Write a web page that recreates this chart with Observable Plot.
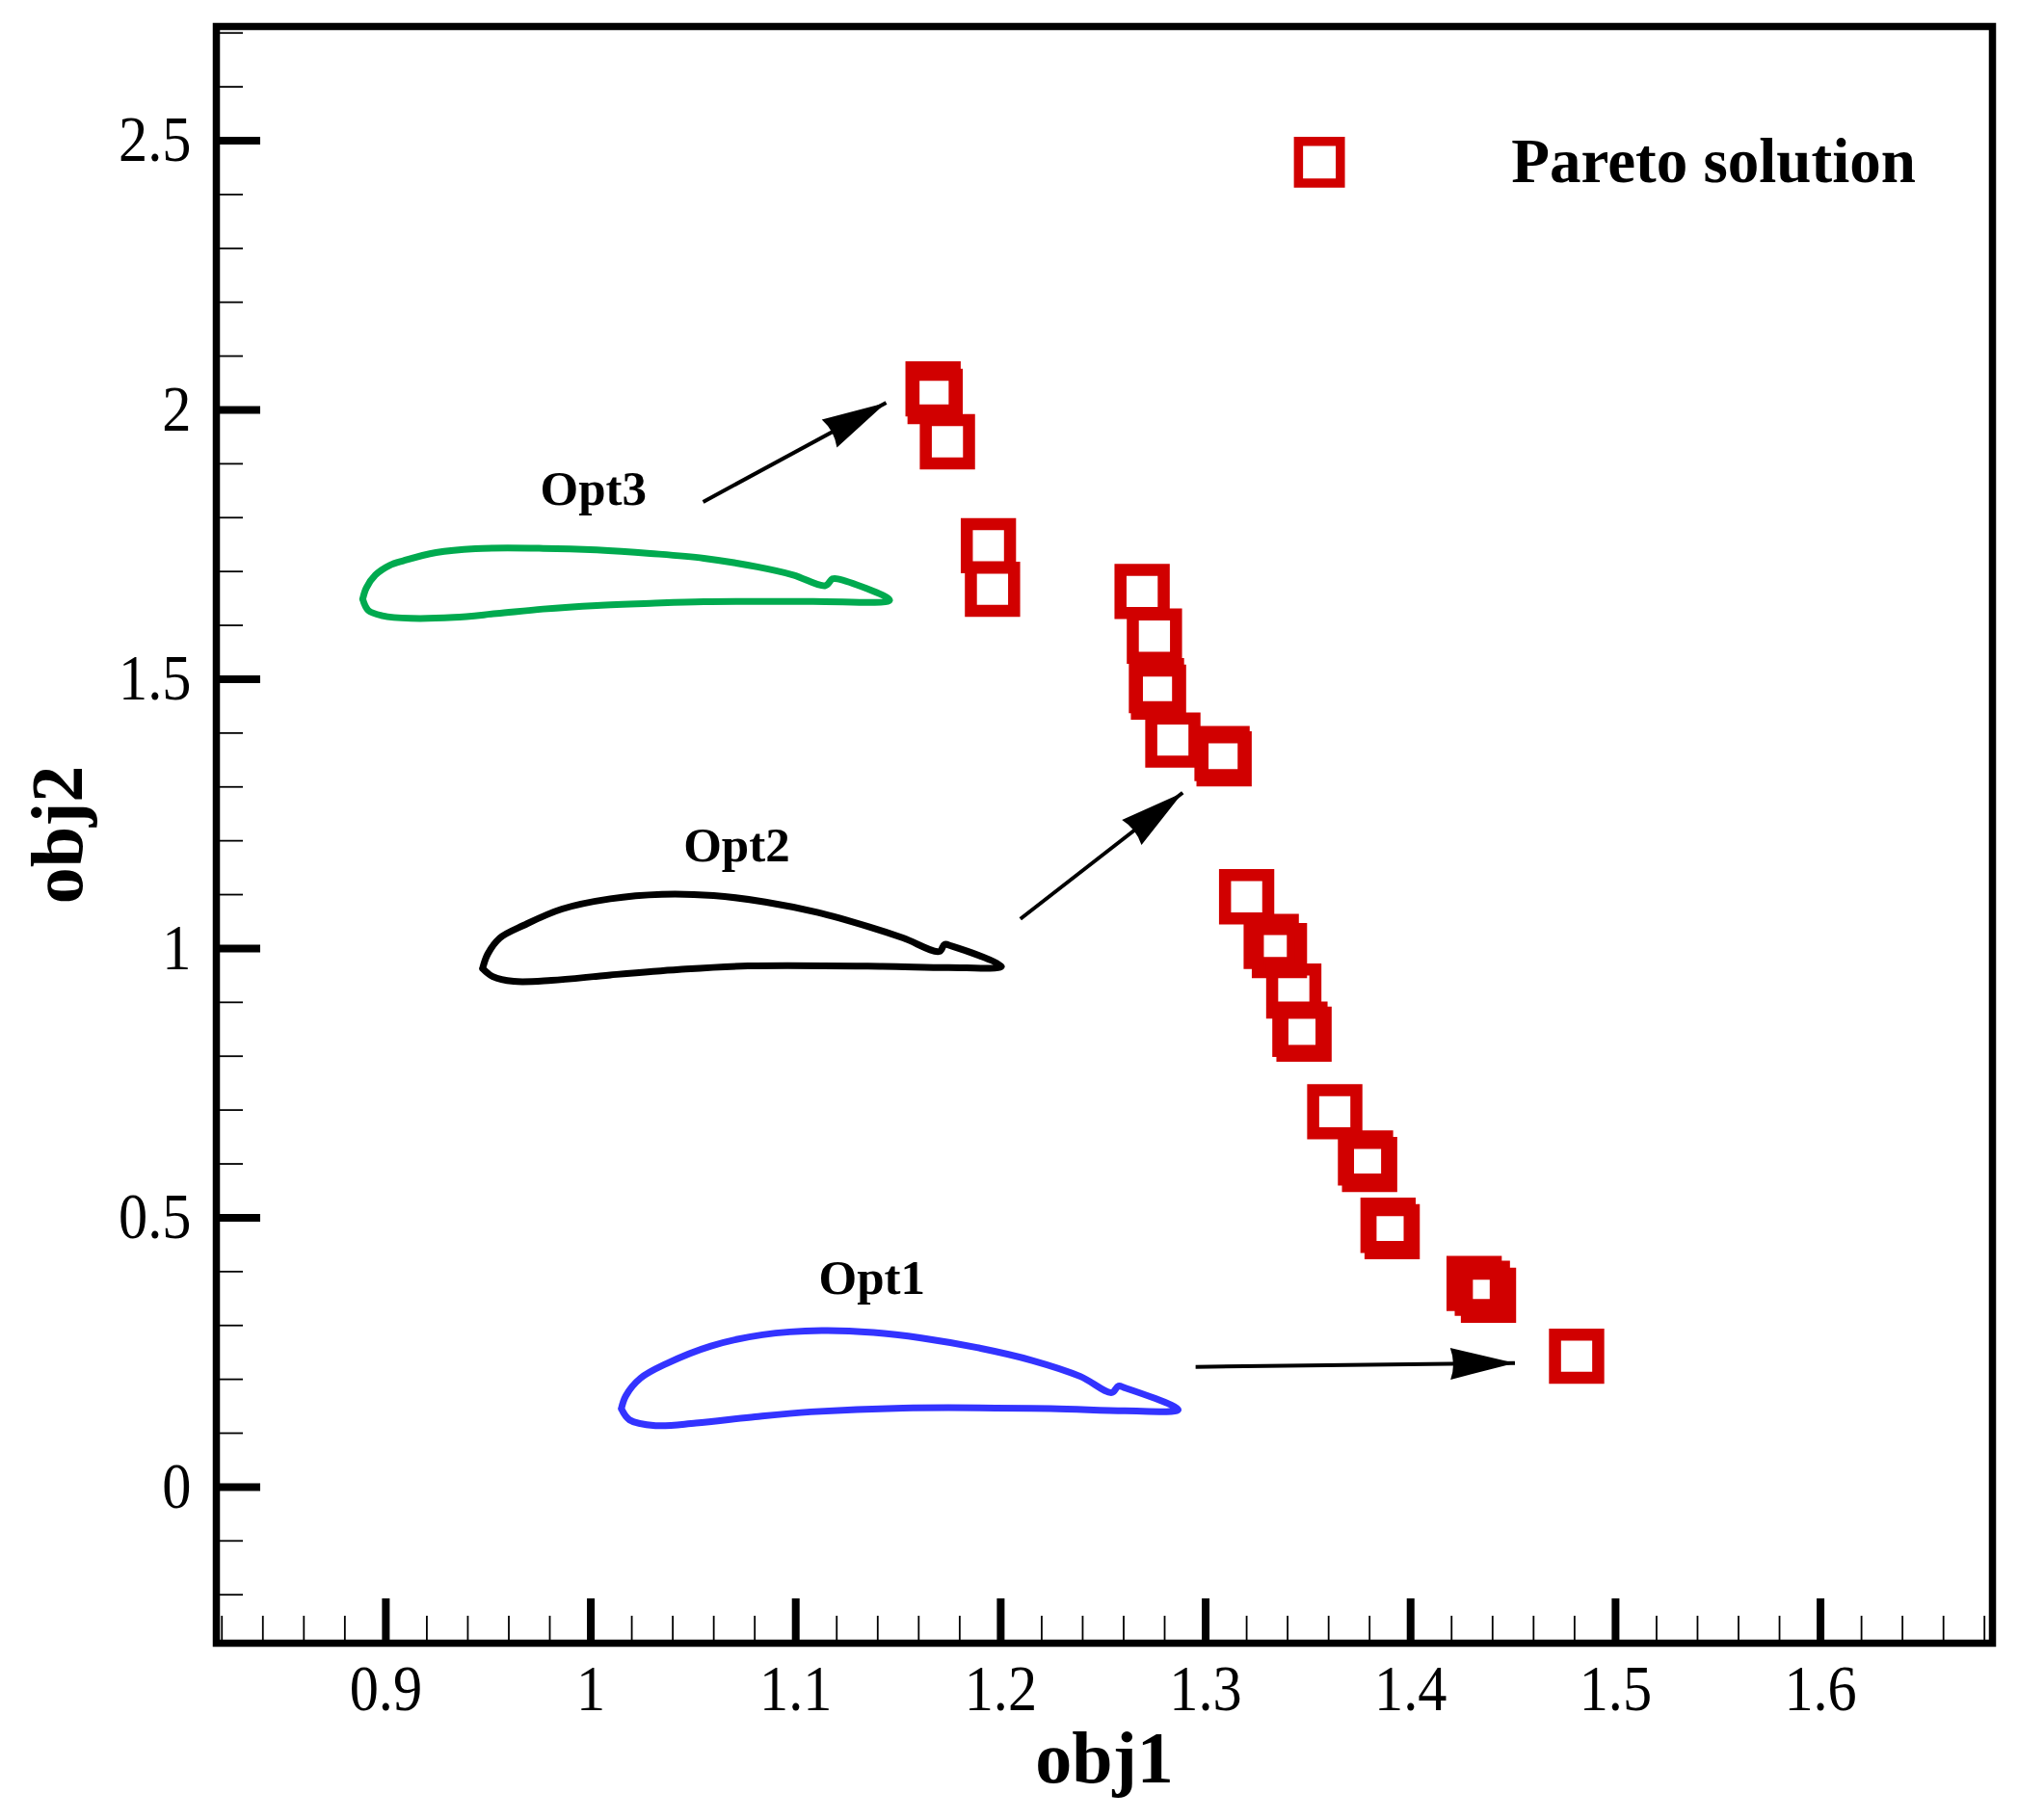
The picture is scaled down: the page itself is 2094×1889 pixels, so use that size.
<!DOCTYPE html>
<html>
<head>
<meta charset="utf-8">
<script src="https://cdn.jsdelivr.net/npm/d3@7"></script>
<script src="https://cdn.jsdelivr.net/npm/@observablehq/plot@0.6"></script>
<style>
  html, body { margin: 0; padding: 0; background: #fff; overflow: hidden; }
  #chart svg { display: block; }
</style>
</head>
<body>
<div id="chart"></div>
<script>
// ---------------- data ----------------
const paretoObj1 = [1.167, 1.168, 1.174, 1.194, 1.196, 1.269, 1.275, 1.276, 1.277, 1.284, 1.308, 1.309, 1.320, 1.332, 1.336, 1.343, 1.346, 1.348, 1.363, 1.378, 1.380, 1.389, 1.391, 1.431, 1.435, 1.438, 1.481];
const paretoObj2 = [2.039, 2.025, 1.941, 1.748, 1.667, 1.663, 1.580, 1.488, 1.476, 1.387, 1.362, 1.352, 1.096, 1.013, 0.996, 0.921, 0.850, 0.841, 0.697, 0.611, 0.599, 0.486, 0.474, 0.378, 0.369, 0.356, 0.243];

// airfoil outlines drawn in the plot's (obj1, obj2) coordinates
const opt3X = [0.8887,0.8905,0.8949,0.9018,0.9088,0.9245,0.9437,0.9768,1.0029,1.0291,1.0552,1.0813,1.0988,1.1144,1.1179,1.1205,1.1458,1.1074,1.0552,1.0291,1.0029,0.9768,0.9541,0.9332,0.9123,0.8984,0.8914,0.8887];
const opt3Y = [1.6487,1.6697,1.6935,1.7114,1.7203,1.7353,1.7425,1.7430,1.7400,1.7335,1.7246,1.7085,1.6935,1.6738,1.6863,1.6863,1.6469,1.6446,1.6441,1.6410,1.6369,1.6303,1.6219,1.6147,1.6129,1.6178,1.6279,1.6487];
const opt2X = [0.9472,0.9497,0.9556,0.9674,0.9859,1.0095,1.0347,1.0599,1.0852,1.1104,1.1356,1.1524,1.1701,1.1726,1.1760,1.2004,1.1743,1.1423,1.0767,1.0431,1.0095,0.9808,0.9624,0.9522,0.9472];
const opt2Y = [0.9628,0.9896,1.0195,1.0433,1.0732,1.0922,1.1006,1.0982,1.0863,1.0671,1.0403,1.0195,0.9945,1.0075,1.0045,0.9669,0.9646,0.9669,0.9676,0.9610,0.9508,0.9408,0.9390,0.9479,0.9628];
const opt1X = [1.0149,1.0171,1.0243,1.0369,1.0586,1.0838,1.1127,1.1379,1.1613,1.1884,1.2154,1.2389,1.2542,1.2574,1.2605,1.2866,1.2605,1.2244,1.1523,1.1073,1.0802,1.0513,1.0316,1.0189,1.0149];
const opt1Y = [0.1455,0.1695,0.2022,0.2291,0.2618,0.2827,0.2904,0.2869,0.2768,0.2589,0.2350,0.2053,0.1754,0.1874,0.1843,0.1437,0.1414,0.1455,0.1467,0.1396,0.1306,0.1187,0.1140,0.1247,0.1455];

// annotation arrows (Opt3, Opt2, Opt1)
const arrowX1 = [1.0548, 1.2096, 1.2951];
const arrowY1 = [1.8293, 1.0549, 0.2232];
const arrowX2 = [1.1441, 1.2888, 1.4509];
const arrowY2 = [2.0132, 1.2892, 0.2303];

const optLabels = ["Opt3", "Opt2", "Opt1"];
const optLabelX = [1.0013, 1.0712, 1.1372];
const optLabelY = [1.853, 1.191, 0.388];

const legendLabel = ["Pareto solution"];
const legendMarkX = [1.3555];
const legendTextX = [1.4492];
const legendY = [2.460];

const xMajorTicks = [0.9, 1.0, 1.1, 1.2, 1.3, 1.4, 1.5, 1.6];
const yMajorTicks = [0, 0.5, 1.0, 1.5, 2.0, 2.5];
const xMinorTicks = d3.range(41, 85).map(k => k / 50);     // every 0.02
const yMinorTicks = d3.range(-2, 28).map(k => k / 10);     // every 0.1

// ---------------- build ----------------
const W = 2094, H = 1889;
const mL = 224, mR = 27, mT = 27, mB = 184;
const innerW = W - mL - mR, innerH = H - mT - mB;
const serif = "'Liberation Serif', 'Times New Roman', Times, serif";

const pareto = paretoObj1.map((x, i) => ({x, y: paretoObj2[i]}));
const foil = (xs, ys) => xs.map((x, i) => ({x, y: ys[i]}));
const arrows = arrowX1.map((x1, i) => ({x1, y1: arrowY1[i], x2: arrowX2[i], y2: arrowY2[i]}));
const labels = optLabels.map((t, i) => ({t, x: optLabelX[i], y: optLabelY[i]}));

function filledArrow(color) {
  const ns = "http://www.w3.org/2000/svg";
  const m = document.createElementNS(ns, "marker");
  m.setAttribute("viewBox", "-72 -20 74 40");
  m.setAttribute("markerUnits", "userSpaceOnUse");
  m.setAttribute("markerWidth", "74");
  m.setAttribute("markerHeight", "40");
  m.setAttribute("refX", "0");
  m.setAttribute("refY", "0");
  m.setAttribute("orient", "auto");
  const p = document.createElementNS(ns, "path");
  p.setAttribute("d", "M0,0L-67,-16.5Q-61,0 -67,16.5Z");
  p.setAttribute("fill", color);
  p.setAttribute("stroke", "none");
  m.appendChild(p);
  return m;
}

const chart = Plot.plot({
  width: W,
  height: H,
  marginLeft: mL, marginRight: mR, marginTop: mT, marginBottom: mB,
  style: {background: "#fff", fontFamily: serif},
  x: {domain: [0.8173, 1.6839], axis: null},
  y: {domain: [-0.29, 2.712], axis: null},
  marks: [
    // minor & major ticks (inward)
    Plot.tickX(xMinorTicks, {x: d => d, stroke: "black", strokeWidth: 1.8, insetTop: innerH - 28}),
    Plot.tickX(xMajorTicks, {x: d => d, stroke: "black", strokeWidth: 8, insetTop: innerH - 46}),
    Plot.tickY(yMinorTicks, {y: d => d, stroke: "black", strokeWidth: 1.8, insetRight: innerW - 28}),
    Plot.tickY(yMajorTicks, {y: d => d, stroke: "black", strokeWidth: 8, insetRight: innerW - 46}),
    // tick labels
    Plot.axisX({ticks: xMajorTicks, tickSize: 0, tickPadding: 22, fontSize: 67, fontFamily: serif, tickFormat: d => String(+d.toFixed(2)), label: null}),
    Plot.axisY({ticks: yMajorTicks, tickSize: 0, tickPadding: 26, fontSize: 67, fontFamily: serif, tickFormat: d => String(+d.toFixed(2)), label: null}),
    // axis titles
    Plot.text(["obj1"], {text: d => d, frameAnchor: "bottom", textAnchor: "middle", lineAnchor: "middle", dy: 120, fontSize: 76, fontWeight: "bold", fontFamily: serif, fill: "black"}),
    Plot.text(["obj2"], {text: d => d, frameAnchor: "left", textAnchor: "middle", lineAnchor: "middle", dx: -164, rotate: -90, fontSize: 76, fontWeight: "bold", fontFamily: serif, fill: "black"}),
    // airfoils
    Plot.line(foil(opt3X, opt3Y), {x: "x", y: "y", stroke: "#00aa4f", strokeWidth: 7, curve: "catmull-rom"}),
    Plot.line(foil(opt2X, opt2Y), {x: "x", y: "y", stroke: "#000000", strokeWidth: 7, curve: "catmull-rom"}),
    Plot.line(foil(opt1X, opt1Y), {x: "x", y: "y", stroke: "#3333ff", strokeWidth: 7, curve: "catmull-rom"}),
    // arrows
    Plot.link(arrows, {x1: "x1", y1: "y1", x2: "x2", y2: "y2", stroke: "black", strokeWidth: 4, markerEnd: filledArrow}),
    // labels
    Plot.text(labels, {x: "x", y: "y", text: "t", fontSize: 51, fontWeight: "bold", fontFamily: serif, fill: "black"}),
    // Pareto points
    Plot.dot(pareto, {x: "x", y: "y", symbol: "square", r: 25.3, stroke: "#d10000", strokeWidth: 12.5, fill: "none"}),
    // legend
    Plot.dot(legendY, {x: legendMarkX, y: legendY, symbol: "square", r: 24.5, stroke: "#d10000", strokeWidth: 9.5, fill: "none"}),
    Plot.text(legendLabel, {x: legendTextX, y: legendY, text: d => d, textAnchor: "start", fontSize: 65, fontWeight: "bold", fontFamily: serif, fill: "black"}),
    // frame
    Plot.frame({stroke: "black", strokeWidth: 7.5})
  ]
});

document.getElementById("chart").appendChild(chart);

// slightly condensed tick-label glyphs, as in the original figure (positions untouched)
chart.querySelectorAll('[aria-label="x-axis tick label"] text, [aria-label="y-axis tick label"] text').forEach(t => {
  const w = t.getComputedTextLength();
  if (w > 0) {
    t.setAttribute("textLength", (w * 0.9).toFixed(1));
    t.setAttribute("lengthAdjust", "spacingAndGlyphs");
  }
});
</script>
</body>
</html>
